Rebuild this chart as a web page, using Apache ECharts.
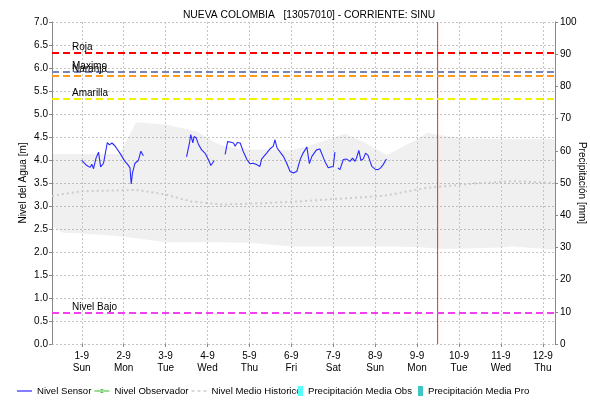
<!DOCTYPE html>
<html><head><meta charset="utf-8">
<script src="https://cdn.jsdelivr.net/npm/echarts@6/dist/echarts.min.js"></script>
<style>html,body{margin:0;padding:0;background:#fff}#c{width:590px;height:401px}</style>
</head><body><div id="c"></div>
<script>
// x values are days counted from 1-9 00:00
const tickDays = [0,1,2,3,4,5,6,7,8,9,10,11];
const tickDates = ['1-9','2-9','3-9','4-9','5-9','6-9','7-9','8-9','9-9','10-9','11-9','12-9'];
const tickWeekdays = ['Sun','Mon','Tue','Wed','Thu','Fri','Sat','Sun','Mon','Tue','Wed','Thu'];

const sensorDays = [0.00,0.12,0.20,0.24,0.28,0.34,0.40,0.45,0.52,0.61,0.66,0.72,0.79,0.91,1.03,1.09,1.15,1.18,1.21,1.27,1.35,1.41,1.47,
  1.90,
  2.50,2.57,2.60,2.65,2.68,2.73,2.78,2.86,2.94,3.02,3.08,3.16,
  3.30,
  3.42,3.46,3.48,3.54,3.62,3.66,3.71,3.78,3.85,3.94,4.01,4.09,4.17,4.25,4.29,4.41,4.49,4.57,4.61,4.66,4.71,4.75,4.81,4.89,4.97,5.05,5.13,5.21,5.28,5.37,5.43,5.49,5.53,5.60,5.68,5.80,5.88,5.94,6.00,6.04,
  6.08,
  6.11,6.16,6.24,6.32,6.40,6.46,6.52,6.56,6.61,6.66,6.72,6.77,6.83,6.92,7.00,7.07,7.13,7.19,7.27];
const sensorLevel = [3.99,3.88,3.84,3.91,3.81,4.04,4.17,3.85,3.93,4.38,4.33,4.37,4.31,4.15,3.97,3.91,3.83,3.48,3.72,3.93,3.99,4.19,4.09,
  null,
  4.07,4.37,4.55,4.37,4.51,4.48,4.35,4.22,4.15,4.01,3.88,3.99,
  null,
  4.12,4.12,4.40,4.39,4.37,4.30,4.38,4.37,4.19,4.01,3.92,3.93,3.90,3.86,4.02,4.15,4.24,4.30,4.44,4.26,4.20,4.15,4.08,3.93,3.75,3.72,3.75,4.01,4.15,4.28,3.92,4.08,4.05,4.22,4.24,3.97,3.83,3.85,3.86,4.17,
  null,
  3.83,3.79,4.01,4.02,3.97,4.04,3.97,4.06,4.21,3.99,4.03,4.15,4.10,3.86,3.80,3.79,3.83,3.90,4.02];

const histDays = [-0.71,-0.45,0,0.9,1.3,2.0,2.75,3.2,3.35,3.7,4.0,5.0,5.5,6.28,6.75,7.28,8.0,8.24,8.5,9.0,10.0,10.3,11.29];
const histMax  = [4.13,4.13,4.13,4.13,4.82,4.77,4.62,4.37,4.32,4.25,4.23,4.21,4.33,4.57,4.38,4.11,4.45,4.59,4.55,4.48,4.45,4.45,4.45];
const histMin  = [2.56,2.42,2.40,2.34,2.30,2.21,2.21,2.21,2.21,2.20,2.20,2.12,2.12,2.12,2.12,2.12,2.11,2.09,2.07,2.07,2.10,2.12,2.05];

const meanDays = [-0.71,0,1.3,2.0,2.6,3.35,4.0,5.0,6.0,7.2,8.2,9.5,10.3,11.29];
const histMean = [3.22,3.32,3.35,3.25,3.10,3.03,3.05,3.09,3.15,3.22,3.39,3.50,3.54,3.50];

const thresholdNames  = ['Roja','Maximo','Naranja','Amarilla','Nivel Bajo'];
const thresholdValues = [6.33,5.91,5.84,5.33,0.67];
const thresholdColors = ['#ff0000','#7585bd','#ff9a1a','#f2f200','#f040f0'];
const nowDay = 8.49;
const nowSpan = [0, 7];

const precipObs = [];
const precipPro = [];
const observer = [];

const chart = echarts.init(document.getElementById('c'), null, {renderer:'canvas'});
const font = 'Liberation Sans, Arial, sans-serif';

const markData = [];
tickDays.forEach(d => markData.push({xAxis:d, lineStyle:{type:[2,2], color:'#c4c4c4', width:1}, label:{show:false}}));
thresholdValues.forEach((v,i) => markData.push({yAxis:v, name:thresholdNames[i],
  lineStyle:{type:[7,4], color:thresholdColors[i], width:2},
  label:{show:true, position:'insideStartTop', formatter:thresholdNames[i], color:'#000', fontSize:10, fontFamily:font, distance:[20,1]}}));

const option = {
  animation:false,
  backgroundColor:'#fff',
  title:{text:'NUEVA COLOMBIA   [13057010] - CORRIENTE: SINU', left:304, top:5, textAlign:'center',
    textStyle:{fontSize:10.3, fontWeight:'normal', color:'#000', fontFamily:font}},
  grid:{left:52, right:35, top:22, bottom:57, containLabel:false, outerBoundsMode:'none'},
  legend:[
    {bottom:5, left:17, padding:0, width:600, itemWidth:15, itemHeight:10, itemGap:3,
      textStyle:{fontSize:9.6, color:'#000', fontFamily:font},
      data:[
        {name:'Nivel Sensor', icon:'path://M0,4.4h15v1.2h-15z'},
        {name:'Nivel Observador', icon:'path://M0,4.4h15v1.2h-15z M5.5,5a2,2 0 1,0 4,0a2,2 0 1,0 -4,0z'},
        {name:'Nivel Medio Historico', icon:'path://M0,4.3h3v1.4h-3z M6,4.3h3v1.4h-3z M12,4.3h3v1.4h-3z'}
      ]},
    {bottom:5, left:298, padding:0, width:400, itemWidth:5, itemHeight:10, itemGap:6,
      textStyle:{fontSize:9.6, color:'#000', fontFamily:font},
      data:[
        {name:'Precipitación Media Obs', icon:'rect'},
        {name:'Precipitación Media Pro', icon:'rect'}
      ]}
  ],
  xAxis:{type:'value', min:-0.71, max:11.29,
    axisLine:{show:false, onZero:false},
    axisTick:{show:true, customValues:tickDays, length:3, lineStyle:{color:'#888'}},
    splitLine:{show:false},
    axisPointer:{show:false},
    axisLabel:{customValues:tickDays, fontSize:10, color:'#000', fontFamily:font, margin:6, lineHeight:12,
      formatter:(v)=>{const i=tickDays.indexOf(Math.round(v)); return i<0?'':tickDates[i]+'\n'+tickWeekdays[i];}}},
  yAxis:[
    {type:'value', min:0, max:7, interval:0.5, position:'left',
      name:'Nivel del Agua [m]', nameLocation:'middle', nameGap:24, nameRotate:90, nameMoveOverlap:false,
      nameTextStyle:{fontSize:10, color:'#000', fontFamily:font},
      axisLine:{show:true, onZero:false, lineStyle:{color:'#888'}},
      axisTick:{show:true, length:3, lineStyle:{color:'#888'}},
      axisLabel:{fontSize:10, color:'#000', fontFamily:font, margin:4, formatter:(v)=>v.toFixed(1)},
      splitLine:{show:true, lineStyle:{type:[2,2], color:'#c4c4c4'}}},
    {type:'value', min:0, max:100, interval:10, position:'right',
      name:'Precipitación [mm]', nameLocation:'middle', nameGap:22, nameRotate:-90, nameMoveOverlap:false,
      nameTextStyle:{fontSize:10, color:'#000', fontFamily:font},
      axisLine:{show:true, onZero:false, lineStyle:{color:'#888'}},
      axisTick:{show:true, length:3, lineStyle:{color:'#888'}},
      axisLabel:{fontSize:10, color:'#000', fontFamily:font, margin:5},
      splitLine:{show:false}}
  ],
  series:[
    {name:'band', type:'custom', silent:true, z:1,
      encode:{x:0, y:[1,2]},
      data:histDays.map((d,i)=>[d,histMin[i],histMax[i]]),
      renderItem:(params, api)=>{
        if (params.dataIndex !== 0) return null;
        const pts = [];
        for (let i=0;i<histDays.length;i++) pts.push(api.coord([histDays[i], histMax[i]]));
        for (let i=histDays.length-1;i>=0;i--) pts.push(api.coord([histDays[i], histMin[i]]));
        return {type:'polygon', shape:{points:pts}, style:{fill:'rgba(120,120,120,0.115)', stroke:null}};
      }},
    {name:'Nivel Medio Historico', type:'line', symbol:'none', color:'#cccccc',
      lineStyle:{type:[2,3], color:'#cccccc', width:2},
      data:meanDays.map((d,i)=>[d,histMean[i]]), z:2,
      markLine:{silent:true, symbol:'none', animation:false, data:markData}},
    {name:'now', type:'line', symbol:'none', silent:true, color:'#ff2020', z:4,
      lineStyle:{width:1, color:'#ff2020', type:'solid'},
      data:nowSpan.map(v=>[nowDay, v])},
    {name:'Nivel Sensor', type:'line', symbol:'none', color:'#2a2aff', connectNulls:false,
      lineStyle:{width:1.1, color:'#2a2aff'},
      data:sensorDays.map((d,i)=>[d,sensorLevel[i]]), z:5},
    {name:'Nivel Observador', type:'line', symbol:'circle', symbolSize:4, color:'#33bb22',
      lineStyle:{width:1}, data:observer},
    {name:'Precipitación Media Obs', type:'bar', yAxisIndex:1, color:'#55ffff', data:precipObs},
    {name:'Precipitación Media Pro', type:'bar', yAxisIndex:1, color:'#3fc4c4', data:precipPro}
  ]
};
chart.setOption(option);
</script></body></html>
